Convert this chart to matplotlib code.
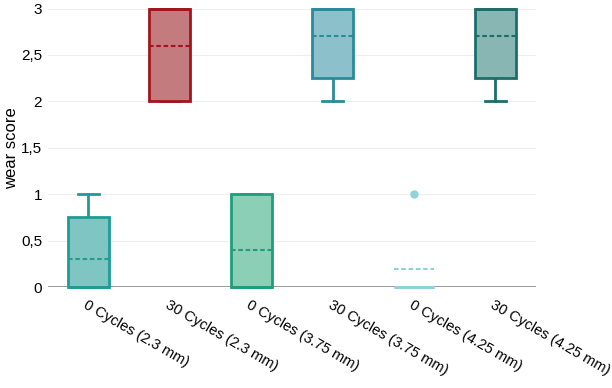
import matplotlib
matplotlib.use("Agg")

import matplotlib.pyplot as plt
from matplotlib.ticker import FuncFormatter

plt.rcParams['font.family'] = ['Liberation Sans', 'DejaVu Sans']

labels = ["0 Cycles (2.3 mm)", "30 Cycles (2.3 mm)", "0 Cycles (3.75 mm)",
          "30 Cycles (3.75 mm)", "0 Cycles (4.25 mm)", "30 Cycles (4.25 mm)"]
q1 = [0, 2, 0, 2.25, 0, 2.25]
q3 = [0.75, 3, 1, 3, 0, 3]
medians = [0, 3, 0, 3, 0, 3]
means = [0.3, 2.6, 0.4, 2.7, 0.2, 2.7]
whis_lo = [0, 2, 0, 2, 0, 2]
whis_hi = [1, 3, 1, 3, 0, 3]
outliers = [[], [], [], [], [1], []]
colors = ["#1f9c96", "#a3151d", "#1f9e7c", "#2a8b9a", "#8fd2dc", "#1d6e6a"]
fills = ["#7fc6c3", "#c47b7e", "#8bcfb6", "#8cc1cc", "#cdeef2", "#88b6b2"]

stats = []
for i in range(len(labels)):
    stats.append(dict(label=labels[i], q1=q1[i], q3=q3[i], med=medians[i],
                      mean=means[i], whislo=whis_lo[i], whishi=whis_hi[i],
                      fliers=outliers[i]))

fig = plt.figure(figsize=(6.12, 3.88), dpi=100)
ax = fig.add_axes([0.078, 0.26, 0.798, 0.718])

ax.axhline(0, color="#888888", lw=1.2, zorder=1)
for y in [0.5, 1, 1.5, 2, 2.5, 3]:
    ax.axhline(y, color="#eeeeee", lw=0.8, zorder=0)

bp = ax.bxp(stats, positions=range(len(labels)), widths=0.5, capwidths=0.25,
            patch_artist=True, showmeans=True, meanline=True, showfliers=True)

for i, c in enumerate(colors):
    box = bp["boxes"][i]
    box.set_facecolor(fills[i])
    box.set_edgecolor(c)
    box.set_linewidth(2)
    box.set_zorder(3)
    box.set_clip_on(False)
    for w in bp["whiskers"][2 * i:2 * i + 2] + bp["caps"][2 * i:2 * i + 2]:
        w.set_color(c)
        w.set_linewidth(2)
        w.set_clip_on(False)
    bp["medians"][i].set_color(c)
    bp["medians"][i].set_linewidth(2)
    bp["medians"][i].set_clip_on(False)
    bp["medians"][i].set_zorder(4)
    m = bp["means"][i]
    m.set_color(c)
    m.set_linestyle((0, (2.2, 1.3)))
    m.set_linewidth(1.5)
    m.set_zorder(4)
    f = bp["fliers"][i]
    f.set_marker("o")
    f.set_markerfacecolor(c)
    f.set_markeredgecolor(c)
    f.set_markersize(5)

ax.set_xlim(-0.5, 5.5)
ax.set_ylim(0, 3.0)
ax.set_yticks([0, 0.5, 1, 1.5, 2, 2.5, 3])
ax.yaxis.set_major_formatter(FuncFormatter(lambda v, p: ("%g" % v).replace(".", ",")))
ax.tick_params(axis="y", length=0, labelsize=11, pad=4)
ax.tick_params(axis="x", length=0, labelsize=10.5, pad=8)
ax.set_xticks(range(len(labels)))
ax.set_xticklabels(labels, rotation=-30, ha="left", rotation_mode="anchor")
ax.set_ylabel("wear score", fontsize=12)
ax.yaxis.set_label_coords(-0.058, 0.5)
for s in ax.spines.values():
    s.set_visible(False)

fig.savefig("out.png", dpi=100)
